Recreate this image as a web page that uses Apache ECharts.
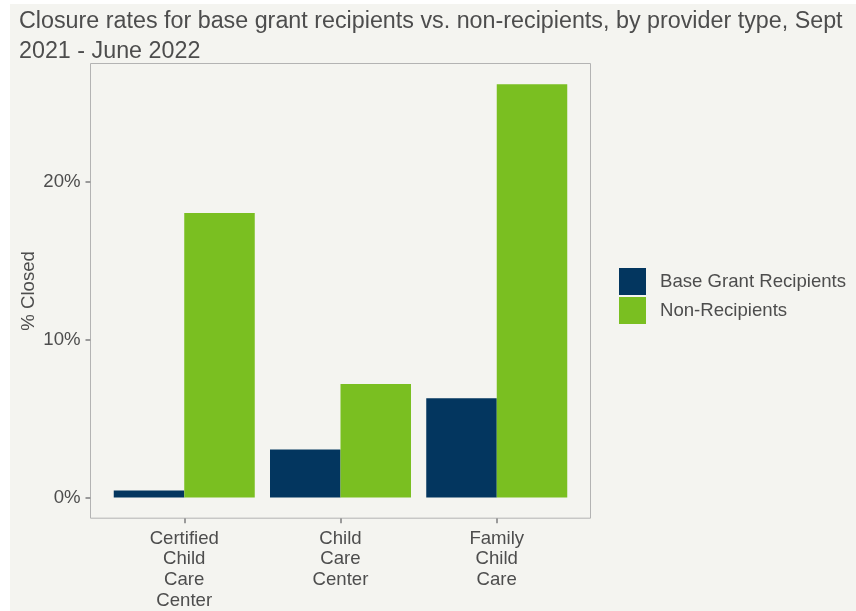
<!DOCTYPE html>
<html>
<head>
<meta charset="utf-8">
<script src="https://cdn.jsdelivr.net/npm/echarts@6/dist/echarts.min.js"></script>
<style>
  html, body { margin: 0; padding: 0; background: #ffffff; }
  #chart { width: 856px; height: 611px; }
</style>
</head>
<body>
<div id="chart"></div>
<script>
// Provider types (x positions 1, 2, 3 on the axis)
const categories = ['Certified\nChild\nCare\nCenter', 'Child\nCare\nCenter', 'Family\nChild\nCare'];
// Share of providers closed, in percent
const recipients = [0.45, 3.04, 6.30];
const nonRecipients = [18.04, 7.19, 26.2];
const seriesNames = ['Base Grant Recipients', 'Non-Recipients'];
const yTicks = [0, 10, 20];

const NAVY = '#03365f';
const GREEN = '#7abf21';
const BG = '#f4f4f0';
const TEXT = '#4d4d4d';
const FONT = 'Liberation Sans, Arial, sans-serif';
const LABEL_SIZE = 18.6;

const chart = echarts.init(document.getElementById('chart'), null, { renderer: 'canvas' });

const xPos = categories.map((_, i) => i + 1);

chart.setOption({
  backgroundColor: '#ffffff',
  animation: false,
  textStyle: { fontFamily: FONT },
  graphic: [
    {
      type: 'rect', z: -10, silent: true,
      shape: { x: 10, y: 4, width: 846, height: 607 },
      style: { fill: BG }
    }
  ],
  title: {
    text: 'Closure rates for base grant recipients vs. non-recipients, by provider type, Sept\n2021 - June 2022',
    left: 14, top: 2,
    textStyle: { color: TEXT, fontSize: 23.3, fontWeight: 'normal', fontFamily: FONT, lineHeight: 30 }
  },
  legend: {
    orient: 'vertical',
    left: 614, top: 263,
    itemWidth: 27, itemHeight: 27, itemGap: 2,
    icon: 'rect',
    textStyle: { color: TEXT, fontSize: LABEL_SIZE, fontFamily: FONT, padding: [5, 0, 0, 9] },
    data: seriesNames
  },
  grid: {
    left: 90.5, top: 63.5, width: 500, height: 455,
    show: true, borderColor: '#b3b3b3', borderWidth: 1,
    backgroundColor: 'transparent'
  },
  xAxis: {
    type: 'value',
    min: 0.4, max: 3.6,
    axisLine: { show: false, onZero: false },
    splitLine: { show: false },
    axisTick: { show: true, customValues: xPos, length: 5, lineStyle: { color: '#9a9a9a', width: 2 } },
    axisLabel: {
      customValues: xPos,
      formatter: v => categories[Math.round(v) - 1] || '',
      color: TEXT, fontSize: LABEL_SIZE, lineHeight: 20.7, margin: 10, fontFamily: FONT, align: 'center'
    }
  },
  yAxis: {
    type: 'value',
    min: -1.31, max: 27.51,
    name: '% Closed',
    nameLocation: 'middle',
    nameGap: 52,
    nameMoveOverlap: false,
    nameRotate: 90,
    nameTextStyle: { color: TEXT, fontSize: LABEL_SIZE, fontFamily: FONT },
    axisLine: { show: false, onZero: false },
    splitLine: { show: false },
    axisTick: { show: true, customValues: yTicks, length: 5, lineStyle: { color: '#9a9a9a', width: 2 } },
    axisLabel: {
      customValues: yTicks,
      formatter: v => v + '%',
      color: TEXT, fontSize: LABEL_SIZE, margin: 10, fontFamily: FONT
    }
  },
  series: [
    {
      name: seriesNames[0], type: 'bar',
      data: recipients.map((v, i) => [xPos[i], v]),
      barWidth: 70.5, barGap: '0%',
      itemStyle: { color: NAVY },
      legendHoverLink: false
    },
    {
      name: seriesNames[1], type: 'bar',
      data: nonRecipients.map((v, i) => [xPos[i], v]),
      barWidth: 70.5, barGap: '0%',
      itemStyle: { color: GREEN },
      legendHoverLink: false
    }
  ]
});
</script>
</body>
</html>
